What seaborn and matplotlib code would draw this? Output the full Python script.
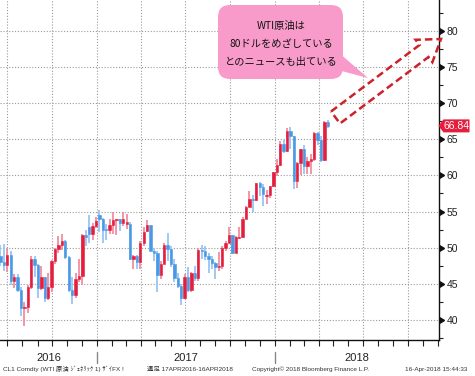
import numpy as np
import pandas as pd
import matplotlib
matplotlib.use("Agg")
import matplotlib.pyplot as plt
import matplotlib.dates as mdates
import matplotlib.transforms as mtransforms
from matplotlib.patches import Polygon, FancyBboxPatch
import seaborn as sns

# ---------------- data (weekly WTI candles, CL1 Comdty) ----------------
first_week = "2016-06-17"
opens = [48.9, 48.0, 47.6, 49.0, 45.4, 46.0, 44.2, 41.6, 41.8, 44.5, 48.5, 47.6, 44.4, 45.9, 43.0,
         44.5, 48.2, 49.8, 50.4, 50.9, 48.7, 44.1, 43.4, 45.7, 46.1, 51.7, 52.8, 51.9, 53.0,
         54.5, 54.0, 52.6, 52.4, 53.2, 53.8, 53.9, 53.4, 53.3, 53.3, 48.4, 48.8, 48.0, 50.6, 52.3,
         53.2, 49.6, 49.3, 46.2, 47.8, 50.3, 49.8, 47.7, 45.8, 44.7, 43.0, 46.0, 44.2, 46.5, 45.8,
         49.7, 49.6, 48.8, 48.5, 47.9, 47.3, 47.5, 49.9, 50.7, 51.7, 49.3, 51.4, 51.5, 53.9, 55.6,
         56.7, 56.6, 59.0, 58.4, 57.2, 57.3, 58.5,
         60.4, 61.4, 64.3, 63.4, 66.1, 65.5, 59.2, 61.7, 63.6, 61.3, 62.0, 62.3, 65.9, 64.9, 62.1, 67.4]
highs = [50.4, 50.5, 49.9, 49.5, 46.4, 46.3, 44.5, 42.5, 44.8, 48.8, 48.8, 47.8, 47.5, 46.0, 46.5,
         48.3, 50.0, 51.6, 51.9, 51.1, 48.9, 45.9, 46.5, 48.4, 51.9, 52.4, 54.5, 53.4, 54.3,
         55.2, 54.1, 53.3, 54.0, 54.9, 54.0, 54.0, 54.9, 54.6, 53.6, 49.0, 49.0, 50.9, 52.9, 53.8,
         53.2, 50.0, 49.5, 48.1, 50.7, 52.0, 50.2, 48.4, 46.5, 45.0, 46.3, 47.3, 46.6, 47.4, 49.9,
         50.4, 50.2, 49.2, 48.9, 48.0, 49.4, 50.2, 50.9, 52.9, 51.7, 51.6, 52.9, 54.2, 55.7, 57.9,
         57.3, 59.0, 59.1, 58.8, 58.0, 58.5, 60.5,
         62.2, 64.8, 64.9, 66.6, 66.7, 65.5, 61.9, 63.7, 64.2, 62.5, 62.9, 66.0, 66.0, 65.5, 67.5, 67.6]
lows = [47.4, 46.8, 46.7, 44.8, 44.4, 43.9, 40.6, 39.2, 41.0, 44.3, 46.0, 43.0, 44.1, 42.5, 42.8,
        43.8, 47.8, 49.2, 49.7, 48.5, 43.8, 42.2, 43.0, 45.2, 44.8, 50.2, 50.7, 51.1, 52.7,
        52.1, 50.7, 51.0, 51.9, 51.9, 51.8, 52.3, 53.0, 52.6, 48.3, 47.1, 47.1, 47.1, 50.2, 52.2,
        49.5, 48.2, 43.8, 45.6, 47.7, 48.2, 47.3, 45.2, 44.4, 42.1, 42.9, 43.8, 43.9, 45.4, 45.4,
        48.5, 48.3, 46.5, 47.1, 45.6, 46.8, 47.1, 49.5, 50.6, 49.1, 49.2, 51.2, 51.3, 53.9, 55.6,
        54.9, 56.4, 57.1, 55.8, 56.1, 56.9, 58.4,
        59.9, 61.3, 63.1, 63.2, 63.7, 58.1, 58.2, 60.1, 60.2, 60.2, 60.2, 62.0, 64.2, 61.8, 62.0, 66.6]
closes = [48.0, 47.6, 49.0, 45.4, 46.0, 44.2, 41.6, 41.8, 44.5, 48.5, 47.6, 44.4, 45.9, 43.0, 44.5,
          48.2, 49.8, 50.4, 50.9, 48.7, 44.1, 43.4, 45.7, 46.1, 51.7, 51.5, 51.9, 53.0, 53.7,
          54.0, 52.4, 52.4, 53.2, 53.8, 53.9, 53.4, 54.0, 53.6, 48.5, 48.8, 48.0, 50.6, 52.2, 53.2,
          49.6, 49.3, 46.2, 47.8, 50.3, 49.8, 47.7, 45.8, 44.7, 43.0, 46.0, 44.2, 46.5, 45.8, 49.7,
          49.6, 48.8, 48.5, 47.9, 47.3, 47.5, 49.9, 50.7, 51.7, 49.3, 51.5, 51.5, 53.9, 55.6, 56.7,
          56.55, 59.0, 58.4, 57.4, 57.3, 58.5, 60.4,
          61.4, 64.3, 63.4, 66.1, 65.5, 59.2, 61.7, 63.6, 61.3, 62.0, 62.3, 65.9, 64.9, 62.1, 67.4, 66.84]

y_ticks = [40, 45, 50, 55, 60, 65, 70, 75, 80]
year_labels = ["2016", "2017", "2018"]
callout_text = "WTI原油は\n80ドルをめざしている\nとのニュースも出ている"
footer_left = "CL1 Comdty (WTI 原油 ｼﾞｪﾈﾘｯｸ 1) ｻﾞｲFX !"
footer_mid = "週足 17APR2016-16APR2018"
footer_copy = "Copyright© 2018 Bloomberg Finance L.P."
footer_date = "16-Apr-2018 15:44:33"

RED, BLUE = "#e41e3c", "#4a98e6"
RED_L, BLUE_L = "#f08ea2", "#98c6f2"

# ---------------- style ----------------
sns.set_style("white")
plt.rcParams["font.family"] = ["Liberation Sans", "Noto Sans CJK JP", "DejaVu Sans"]

df = pd.DataFrame({
    "date": pd.date_range(first_week, periods=len(closes), freq="W-FRI"),
    "open": opens, "high": highs, "low": lows, "close": closes,
})
df["x"] = mdates.date2num(df["date"])
df["up"] = df["close"] >= df["open"]

W, H = 475, 376
fig = plt.figure(figsize=(W / 100, H / 100), dpi=100)
ax = fig.add_axes([0, 1 - 339.5 / H, 438.5 / W, 339.5 / H])

ax.vlines(df["x"], df["low"], df["high"],
          colors=np.where(df["up"], RED_L, BLUE_L), lw=1.3, zorder=2)
body_cols = np.where(df["up"], RED, BLUE)
ax.bar(df["x"], df["close"] - df["open"], bottom=df["open"], width=4.8,
       color=body_cols, edgecolor=body_cols, linewidth=0.4, zorder=3)

x0 = mdates.date2num(pd.Timestamp("2016-06-16"))
x1 = mdates.date2num(pd.Timestamp("2018-12-03"))
ax.set_xlim(x0, x1)
ax.set_ylim(37.3, 84.25)

# x axis: quarterly grid, monthly ticks
ax.xaxis.set_major_locator(mdates.MonthLocator(bymonth=[1, 4, 7, 10]))
ax.xaxis.set_minor_locator(mdates.MonthLocator())
ax.tick_params(axis="x", which="both", direction="out", length=4, width=0.8,
               color="#222", labelbottom=False, bottom=True)

# y axis on right
ax.yaxis.tick_right()
ax.set_yticks(y_ticks)
ax.set_yticks(np.arange(37.5, 84, 5), minor=True)
ax.tick_params(axis="y", which="major", length=0, pad=6, labelsize=7.5, labelcolor="#222")
ax.tick_params(axis="y", which="minor", direction="out", length=3, width=0.8, color="#222")
ax.plot(np.ones(len(y_ticks)), y_ticks, transform=ax.get_yaxis_transform(),
        ls="none", marker=9, ms=5, color="#111", clip_on=False, zorder=6)

ax.grid(True, which="major", color="#9a9a9a", ls=(0, (1, 1.6)), lw=0.8)
for s in ["left", "top"]:
    ax.spines[s].set_visible(False)
for s in ["right", "bottom"]:
    ax.spines[s].set_color("#111")
    ax.spines[s].set_linewidth(1.0)

# year labels & dividers
blend = mtransforms.blended_transform_factory(ax.transData, fig.transFigure)
bounds = [x0, mdates.date2num(pd.Timestamp("2017-01-01")),
          mdates.date2num(pd.Timestamp("2018-01-01")), x1]
for i, lab in enumerate(year_labels):
    ax.text((bounds[i] + bounds[i + 1]) / 2, 1 - 358 / H, lab, transform=blend,
            ha="center", va="center", fontsize=8, color="#222")
for b in bounds[1:3]:
    ax.plot([b, b], [1 - 352 / H, 1 - 363 / H], transform=blend, color="#888",
            lw=1, clip_on=False)

# footer
for xp, txt in [(3, footer_left), (147, footer_mid), (252, footer_copy), (405, footer_date)]:
    fig.text(xp / W, 1 - 369 / H, txt, fontsize=4.6, va="center", ha="left", color="#333")

# last price tag
last = df["close"].iloc[-1]
px_x = ax.transAxes.transform((1, 0))[0]
px_y = ax.transData.transform((x0, last))[1]
idt = mtransforms.IdentityTransform()
tag = Polygon([(px_x, px_y), (px_x + 5, px_y + 6.5), (px_x + 31, px_y + 6.5),
               (px_x + 31, px_y - 6.5), (px_x + 5, px_y - 6.5)], closed=True,
              transform=idt, fc=RED, ec="none", zorder=8)
fig.add_artist(tag)
fig.text(px_x + 18, px_y, f"{last:.2f}", transform=idt, ha="center", va="center",
         fontsize=7.5, color="white", zorder=9)

# callout bubble and dashed arrow (pixel coordinates -> inches)
def P(x, y):
    return (x / 100, (H - y) / 100)

ins = fig.dpi_scale_trans
PINK = "#f99bca"
fig.add_artist(FancyBboxPatch(P(218, 79), 1.25, 0.74,
                              boxstyle="round,pad=0,rounding_size=0.12",
                              transform=ins, fc=PINK, ec="none", zorder=7))
fig.add_artist(Polygon([P(338, 52), P(368, 78), P(334, 69)], closed=True,
                       transform=ins, fc=PINK, ec="none", zorder=7))
fig.text(281 / W, 1 - 44 / H, callout_text, ha="center", va="center", fontsize=7.4,
         family=["Noto Sans CJK JP", "DejaVu Sans"], linespacing=1.95, color="#111", zorder=8)

arrow_pts = [P(331, 111.5), P(419.5, 45), P(415.6, 39.8), P(441, 39),
             P(432.4, 62.2), P(428.5, 57), P(340, 123.5)]
fig.add_artist(Polygon(arrow_pts, closed=True, transform=ins, fill=False,
                       ec="#cc2229", lw=1.8, ls=(0, (3, 1.6)), zorder=7))

fig.savefig("out.png", dpi=100)
